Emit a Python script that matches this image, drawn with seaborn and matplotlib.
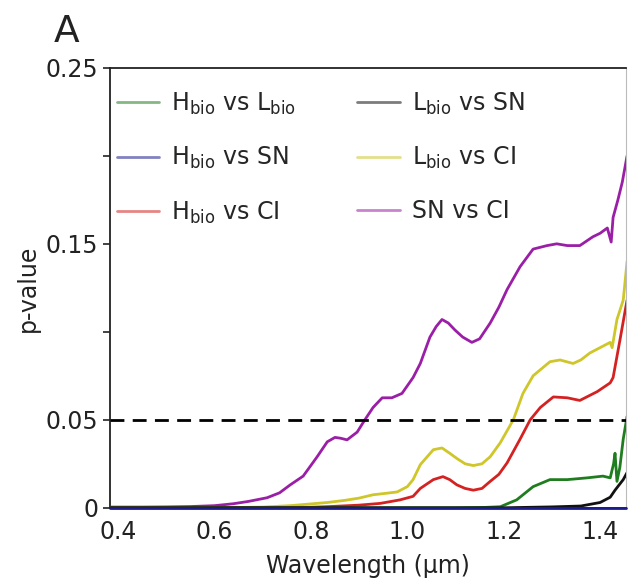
import matplotlib
matplotlib.use("Agg")
import matplotlib.pyplot as plt
from matplotlib.lines import Line2D
import pandas as pd
import seaborn as sns

sns.set_style("ticks")
plt.rcParams["font.family"] = ["DejaVu Sans"]
plt.rcParams["mathtext.fontset"] = "dejavusans"

# p-value curves across wavelength (µm), one pair of arrays per comparison
wl_sn_ci = [0.38, 0.45, 0.50, 0.55, 0.60, 0.639, 0.67, 0.709, 0.735, 0.757, 0.784,
            0.813, 0.834, 0.850, 0.862, 0.875, 0.896, 0.912, 0.929, 0.948, 0.968, 0.989,
            1.012, 1.027, 1.047, 1.06, 1.072, 1.085, 1.099, 1.115, 1.134, 1.15, 1.172,
            1.19, 1.207, 1.234, 1.261, 1.29, 1.31, 1.332, 1.358, 1.385, 1.40, 1.415,
            1.423, 1.427, 1.437, 1.446, 1.456]
p_sn_ci = [0.0004, 0.0004, 0.0005, 0.0007, 0.0012, 0.0023, 0.0036, 0.0057, 0.0085,
           0.013, 0.018, 0.029, 0.0375, 0.040, 0.0395, 0.0386, 0.043, 0.050, 0.057, 0.0625,
           0.0625, 0.065, 0.074, 0.082, 0.097, 0.103, 0.107, 0.105, 0.101, 0.097, 0.094,
           0.096, 0.105, 0.114, 0.124, 0.137, 0.147, 0.149, 0.150, 0.149, 0.149, 0.154,
           0.156, 0.159, 0.151, 0.165, 0.175, 0.185, 0.200]

wl_l_ci = [0.38, 0.60, 0.70, 0.757, 0.80, 0.834, 0.87, 0.90, 0.929, 0.955, 0.979, 1.0,
           1.012, 1.027, 1.054, 1.072, 1.088, 1.103, 1.12, 1.137, 1.155, 1.172, 1.193,
           1.22, 1.24, 1.261, 1.296, 1.317, 1.344, 1.36, 1.379, 1.40, 1.421, 1.425,
           1.435, 1.448, 1.456]
p_l_ci = [0.0, 0.0, 0.0004, 0.0012, 0.0022, 0.003, 0.0042, 0.0055, 0.0074, 0.0082,
          0.009, 0.012, 0.016, 0.0245, 0.033, 0.034, 0.031, 0.028, 0.025, 0.024, 0.025,
          0.029, 0.037, 0.050, 0.065, 0.075, 0.083, 0.084, 0.082, 0.084, 0.088, 0.091,
          0.094, 0.091, 0.107, 0.118, 0.140]

wl_h_ci = [0.38, 0.75, 0.80, 0.84, 0.90, 0.944, 0.985, 1.012, 1.027, 1.054, 1.074,
           1.088, 1.103, 1.12, 1.137, 1.155, 1.172, 1.19, 1.207, 1.234, 1.255, 1.276,
           1.303, 1.332, 1.358, 1.394, 1.421, 1.427, 1.441, 1.452, 1.456]
p_h_ci = [0.0, 0.0, 0.0003, 0.0007, 0.0015, 0.0025, 0.0045, 0.0065, 0.011, 0.016,
          0.0177, 0.016, 0.013, 0.011, 0.010, 0.011, 0.015, 0.019, 0.0255, 0.039, 0.050,
          0.057, 0.063, 0.0625, 0.061, 0.066, 0.071, 0.074, 0.095, 0.112, 0.118]

wl_h_l = [0.38, 1.10, 1.16, 1.193, 1.227, 1.261, 1.296, 1.332, 1.373, 1.406, 1.421,
          1.428, 1.431, 1.435, 1.441, 1.448, 1.456]
p_h_l = [0.0, 0.0, 0.0002, 0.0006, 0.0045, 0.012, 0.016, 0.016, 0.017, 0.018, 0.017,
         0.025, 0.031, 0.015, 0.023, 0.039, 0.052]

wl_l_sn = [0.38, 1.20, 1.30, 1.36, 1.40, 1.421, 1.431, 1.448, 1.456]
p_l_sn = [0.0, 0.0, 0.0005, 0.001, 0.003, 0.006, 0.010, 0.016, 0.020]

wl_h_sn = [0.383, 0.80, 1.20, 1.454]
p_h_sn = [0.0, 0.0, 0.0, 0.0]

labels = [r"H$_{\rm bio}$ vs L$_{\rm bio}$", r"H$_{\rm bio}$ vs SN", r"H$_{\rm bio}$ vs CI",
          r"L$_{\rm bio}$ vs SN", r"L$_{\rm bio}$ vs CI", "SN vs CI"]
colors = ["#1f7d1f", "#1c1c8e", "#d42222", "#111111", "#cfc62a", "#9a1fa6"]
wls = [wl_h_l, wl_h_sn, wl_h_ci, wl_l_sn, wl_l_ci, wl_sn_ci]
pvals = [p_h_l, p_h_sn, p_h_ci, p_l_sn, p_l_ci, p_sn_ci]

frames = [pd.DataFrame({"Wavelength": w, "p": p, "pair": lab})
          for w, p, lab in zip(wls, pvals, labels)]
df = pd.concat(frames, ignore_index=True)

fig = plt.figure(figsize=(6.28, 5.85), dpi=100)
ax = fig.add_axes([0.175, 0.132, 0.822, 0.752])

# draw back-to-front so the low curves sit on top near zero
draw_order = [5, 4, 2, 0, 3, 1]
for i in draw_order:
    sub = df[df["pair"] == labels[i]]
    sns.lineplot(data=sub, x="Wavelength", y="p", color=colors[i], lw=2.0,
                 estimator=None, sort=True, ax=ax, legend=False, zorder=3)
# the all-zero comparison runs along the bottom edge
ax.lines[-1].set_clip_on(False)

ax.axhline(0.05, color="black", lw=2, ls=(0, (5, 3)), zorder=4)

ax.set_xlim(0.383, 1.454)
ax.set_ylim(0, 0.25)
ax.set_xticks([0.4, 0.6, 0.8, 1.0, 1.2, 1.4])
ax.set_xticklabels(["0.4", "0.6", "0.8", "1.0", "1.2", "1.4"])
ax.set_yticks([0, 0.05, 0.1, 0.15, 0.2, 0.25])
ax.set_yticklabels(["0", "0.05", "", "0.15", "", "0.25"])
ax.tick_params(labelsize=17, length=5, width=1.2, colors="#222222")
ax.tick_params(axis="x", length=0, pad=9)
for s in ax.spines.values():
    s.set_linewidth(1.3)
    s.set_color("#222222")
ax.spines["right"].set_color("#bbbbbb")
ax.spines["right"].set_linewidth(0.8)

ax.set_xlabel("Wavelength (µm)", fontsize=17, color="#222222", labelpad=7)
ax.set_ylabel("p-value", fontsize=17, color="#222222", labelpad=4)

handles = [Line2D([], [], color=c, lw=2, alpha=0.55) for c in colors]
ax.legend(handles, labels, ncol=2, frameon=False, fontsize=17,
          loc="upper left", bbox_to_anchor=(-0.028, 0.997),
          handlelength=1.8, handletextpad=0.5, labelspacing=1.2,
          columnspacing=2.6)

fig.text(0.085, 0.945, "A", fontsize=27, color="#222222", ha="left", va="center")

fig.savefig("out.png", dpi=100)
